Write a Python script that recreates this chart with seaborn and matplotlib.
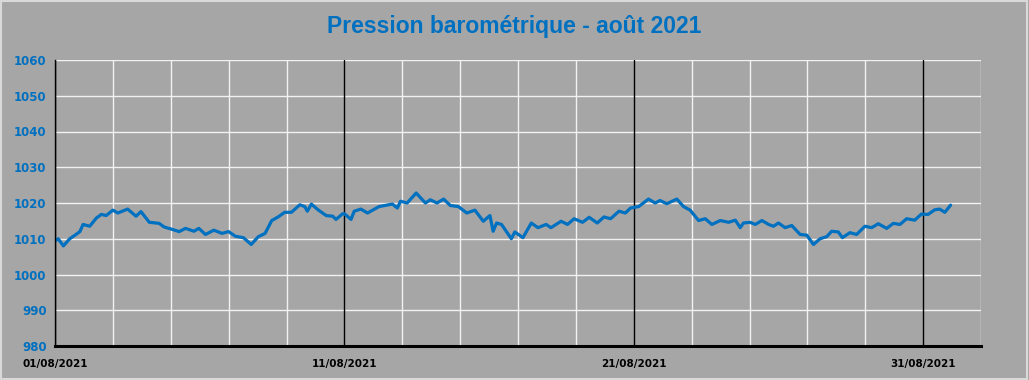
import matplotlib
matplotlib.use("Agg")
import matplotlib.pyplot as plt
import seaborn as sns
import pandas as pd
from matplotlib.patches import Rectangle

# Day offsets from 01/08/2021 00:00 and pressure readings (hPa)
days = [0.00, 0.11, 0.29, 0.51, 0.69, 0.86, 0.97, 1.20, 1.43, 1.60, 1.77, 2.00, 2.17, 2.51,
        2.80, 2.97, 3.26, 3.60, 3.77, 4.06, 4.29, 4.51, 4.80, 4.97, 5.20, 5.49, 5.77, 6.00,
        6.23, 6.51, 6.78, 7.03, 7.26, 7.49, 7.71, 7.94, 8.17, 8.46, 8.63, 8.72, 8.86, 9.09,
        9.37, 9.60, 9.71, 9.94, 10.00, 10.23, 10.34, 10.57, 10.80, 11.20, 11.66, 11.83, 11.94,
        12.17, 12.48, 12.80, 12.97, 13.20, 13.43, 13.66, 13.94, 14.23, 14.51, 14.80, 15.03,
        15.14, 15.26, 15.43, 15.77, 15.89, 16.17, 16.46, 16.69, 16.97, 17.14, 17.49, 17.71,
        17.94, 18.23, 18.46, 18.74, 18.97, 19.20, 19.49, 19.71, 19.89, 20.17, 20.51, 20.74,
        20.91, 21.14, 21.49, 21.72, 21.95, 22.24, 22.47, 22.70, 22.99, 23.28, 23.51, 23.68,
        23.79, 24.02, 24.20, 24.43, 24.66, 24.83, 25.00, 25.23, 25.46, 25.75, 25.98, 26.21,
        26.44, 26.67, 26.84, 27.07, 27.21, 27.47, 27.70, 27.99, 28.22, 28.45, 28.74, 28.97,
        29.20, 29.43, 29.71, 29.94, 30.17, 30.40, 30.57, 30.75, 30.95]
pressure = [1009.4, 1010.0, 1008.0, 1010.0, 1011.0, 1012.0, 1014.0, 1013.5, 1015.8, 1016.8,
            1016.5, 1018.0, 1017.2, 1018.3, 1016.3, 1017.6, 1014.6, 1014.3, 1013.3, 1012.6,
            1012.0, 1012.9, 1012.1, 1012.9, 1011.2, 1012.4, 1011.5, 1012.0, 1010.7, 1010.3,
            1008.4, 1010.6, 1011.5, 1015.1, 1016.1, 1017.4, 1017.4, 1019.5, 1019.0, 1017.7,
            1019.7, 1018.1, 1016.5, 1016.3, 1015.4, 1017.0, 1017.0, 1015.4, 1017.7, 1018.3,
            1017.2, 1019.0, 1019.7, 1018.6, 1020.5, 1020.0, 1022.8, 1020.0, 1020.9, 1020.0,
            1021.1, 1019.3, 1019.0, 1017.2, 1018.0, 1014.9, 1016.5, 1012.1, 1014.4, 1014.0,
            1010.0, 1011.9, 1010.3, 1014.4, 1013.1, 1014.0, 1013.1, 1014.9, 1014.0, 1015.6,
            1014.6, 1016.0, 1014.4, 1016.1, 1015.6, 1017.7, 1017.2, 1018.6, 1019.0, 1021.1,
            1020.0, 1020.7, 1019.8, 1021.1, 1019.0, 1018.0, 1015.1, 1015.6, 1014.0, 1015.1,
            1014.6, 1015.2, 1013.1, 1014.4, 1014.6, 1014.0, 1015.1, 1014.0, 1013.5, 1014.4,
            1013.1, 1013.7, 1011.2, 1011.0, 1008.4, 1010.0, 1010.6, 1012.1, 1011.9, 1010.3,
            1011.7, 1011.2, 1013.5, 1013.1, 1014.2, 1012.9, 1014.3, 1014.0, 1015.6, 1015.2,
            1016.9, 1016.8, 1018.1, 1018.3, 1017.4, 1019.4]

major_ticks = [0, 10, 20, 30]
major_labels = ["01/08/2021", "11/08/2021", "21/08/2021", "31/08/2021"]
y_ticks = [980, 990, 1000, 1010, 1020, 1030, 1040, 1050, 1060]
title = "Pression barométrique - août 2021"

BG = "#a6a6a6"
BLUE = "#0070c0"

sns.set_theme(style="white")
plt.rcParams["font.family"] = ["DejaVu Sans"]

fig = plt.figure(figsize=(10.29, 3.80), dpi=100, facecolor=BG)
ax = fig.add_axes([55 / 1029, 1 - 346 / 380, (981 - 55) / 1029, (346 - 60) / 380])
ax.set_facecolor(BG)

df = pd.DataFrame({"day": days, "hPa": pressure})

# grid
for d in range(0, 33, 2):
    if d % 10 != 0:
        ax.axvline(d, color="#f2f2f2", lw=1.0, zorder=1)
for v in y_ticks:
    ax.axhline(v, color="#f2f2f2", lw=1.0, zorder=1)
for d in major_ticks:
    ax.axvline(d, color="black", lw=1.0, zorder=2)

sns.lineplot(data=df, x="day", y="hPa", ax=ax, color=BLUE, lw=2.3, zorder=3)

ax.set_xlim(0, 32)
ax.set_ylim(980, 1060)
ax.set_xticks(major_ticks)
ax.set_xticklabels(major_labels, fontsize=7.5, fontweight="bold", color="black")
ax.set_yticks(y_ticks)
ax.set_yticklabels([str(v) for v in y_ticks], fontsize=8.5, fontweight="bold", color=BLUE)
ax.tick_params(axis="x", length=0, pad=9)
ax.tick_params(axis="y", length=0, pad=6)
ax.set_xlabel("")
ax.set_ylabel("")

for s in ["top", "right"]:
    ax.spines[s].set_visible(False)
ax.spines["left"].set_color("black")
ax.spines["left"].set_linewidth(1.0)
ax.spines["bottom"].set_color("black")
ax.spines["bottom"].set_linewidth(2.2)
ax.spines["left"].set_zorder(4)
ax.spines["bottom"].set_zorder(4)

fig.text(0.5, 1 - 27 / 380, title, ha="center", va="center", fontsize=16.5,
         fontweight="bold", color=BLUE, family=["Liberation Sans", "DejaVu Sans"])

fig.patches.append(Rectangle((0.001, 0.002), 0.997, 0.995, transform=fig.transFigure,
                             fill=False, edgecolor="#d9d9d9", lw=1.5))

fig.savefig("out.png", dpi=100, facecolor=BG)
